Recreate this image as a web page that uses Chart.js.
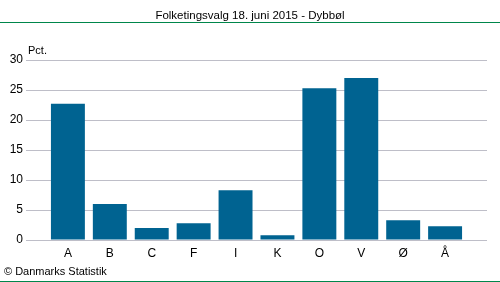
<!DOCTYPE html>
<html>
<head>
<meta charset="utf-8">
<script src="https://cdn.jsdelivr.net/npm/chart.js@4/dist/chart.umd.min.js"></script>
<style>
  html, body { margin: 0; padding: 0; background: #fff; }
  #wrap { position: relative; width: 500px; height: 282px; }
</style>
</head>
<body>
<div id="wrap"><canvas id="chart"></canvas></div>
<script>
const categories = ['A', 'B', 'C', 'F', 'I', 'K', 'O', 'V', 'Ø', 'Å'];
const votes = [22.7, 6.0, 2.0, 2.8, 8.3, 0.8, 25.3, 27.0, 3.3, 2.3];
const yTicks = [0, 5, 10, 15, 20, 25, 30];

const titleText = 'Folketingsvalg 18. juni 2015 - Dybbøl';
const unitText = 'Pct.';
const sourceText = '© Danmarks Statistik';
const fontFamily = '"Liberation Sans", Arial, sans-serif';

// title, green rules, unit label and source line
const decorations = {
    id: 'decorations',
    afterDraw(chart) {
        const ctx = chart.ctx;
        ctx.save();
        ctx.strokeStyle = '#00864b';
        ctx.lineWidth = 1;
        ctx.beginPath();
        ctx.moveTo(0, 22.5);
        ctx.lineTo(500, 22.5);
        ctx.moveTo(0, 281.5);
        ctx.lineTo(500, 281.5);
        ctx.stroke();

        ctx.fillStyle = '#000';
        ctx.textBaseline = 'middle';
        ctx.font = '11.5px ' + fontFamily;
        ctx.textAlign = 'center';
        ctx.fillText(titleText, 250, 15.5);

        ctx.font = '11px ' + fontFamily;
        ctx.textAlign = 'left';
        ctx.fillText(unitText, 28, 51);
        ctx.fillText(sourceText, 4, 271.5);
        ctx.restore();
    }
};

const points = votes.map((v, i) => ({ x: i, y: v }));

new Chart(document.getElementById('chart'), {
    type: 'bar',
    data: {
        datasets: [{
            data: points,
            backgroundColor: '#006391',
            borderWidth: 0,
            categoryPercentage: 1,
            barPercentage: 0.81
        }]
    },
    options: {
        responsive: true,
        maintainAspectRatio: false,
        animation: false,
        layout: { padding: { top: 60, right: 13, left: 0, bottom: 0 } },
        plugins: {
            legend: { display: false },
            tooltip: { enabled: false },
            title: { display: false }
        },
        scales: {
            x: {
                type: 'linear',
                min: -1,
                max: categories.length,
                offset: false,
                grid: { display: false, drawTicks: false },
                border: { display: false },
                afterFit: (scale) => { scale.height = 42; },
                afterBuildTicks: (scale) => {
                    scale.ticks = categories.map((c, i) => ({ value: i }));
                },
                ticks: {
                    autoSkip: false,
                    maxRotation: 0,
                    padding: 6,
                    color: '#000',
                    font: { family: fontFamily, size: 12 },
                    callback: (v) => categories[v] ?? ''
                }
            },
            y: {
                min: 0,
                max: 30,
                grid: { color: '#bebec8', drawTicks: false, lineWidth: 1 },
                border: { display: false },
                afterFit: (scale) => { scale.width = 26; },
                afterBuildTicks: (scale) => {
                    scale.ticks = yTicks.map(v => ({ value: v }));
                },
                ticks: {
                    padding: 3,
                    color: '#000',
                    font: { family: fontFamily, size: 12 }
                }
            }
        }
    },
    plugins: [decorations]
});
</script>
</body>
</html>
